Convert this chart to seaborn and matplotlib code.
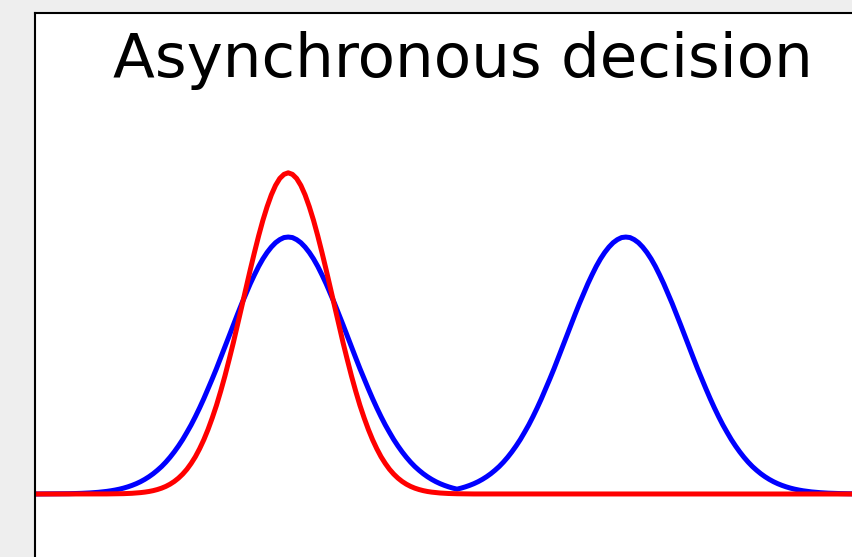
import numpy as np
import pandas as pd
import matplotlib.pyplot as plt
import seaborn as sns

# x positions, one every 0.05 from 0 to 10
x = [round(i * 0.05, 2) for i in range(201)]

# blue curve: two bumps (peaks at x=3 and x=7)
blue = [
    # x 0 .. 3
    0.0001, 0.0002, 0.0002, 0.0003, 0.0004, 0.0006, 0.0007, 0.0009, 0.0012, 0.0016,
    0.0020, 0.0026, 0.0033, 0.0042, 0.0053, 0.0066, 0.0082, 0.0102, 0.0126, 0.0155,
    0.0189, 0.0230, 0.0279, 0.0336, 0.0402, 0.0479, 0.0569, 0.0672, 0.0789, 0.0923,
    0.107, 0.124, 0.143, 0.164, 0.187, 0.212, 0.240, 0.269, 0.301, 0.335,
    0.371, 0.409, 0.448, 0.488, 0.530, 0.572, 0.615, 0.658, 0.700, 0.741,
    0.780, 0.818, 0.853, 0.886, 0.915, 0.940, 0.961, 0.978, 0.990, 0.998,
    1.000,
    # x 3.05 .. 5
    0.998, 0.990, 0.978, 0.961, 0.940, 0.915, 0.886, 0.853, 0.818, 0.780,
    0.741, 0.700, 0.658, 0.615, 0.572, 0.530, 0.488, 0.448, 0.409, 0.371,
    0.335, 0.301, 0.269, 0.240, 0.212, 0.187, 0.164, 0.143, 0.124, 0.107,
    0.0923, 0.0789, 0.0672, 0.0569, 0.0479, 0.0402, 0.0336, 0.0279, 0.0230, 0.0189,
    # x 5.05 .. 7
    0.0230, 0.0279, 0.0336, 0.0402, 0.0479, 0.0569, 0.0672, 0.0789, 0.0923, 0.107,
    0.124, 0.143, 0.164, 0.187, 0.212, 0.240, 0.269, 0.301, 0.335, 0.371,
    0.409, 0.448, 0.488, 0.530, 0.572, 0.615, 0.658, 0.700, 0.741, 0.780,
    0.818, 0.853, 0.886, 0.915, 0.940, 0.961, 0.978, 0.990, 0.998, 1.000,
    # x 7.05 .. 10
    0.998, 0.990, 0.978, 0.961, 0.940, 0.915, 0.886, 0.853, 0.818, 0.780,
    0.741, 0.700, 0.658, 0.615, 0.572, 0.530, 0.488, 0.448, 0.409, 0.371,
    0.335, 0.301, 0.269, 0.240, 0.212, 0.187, 0.164, 0.143, 0.124, 0.107,
    0.0923, 0.0789, 0.0672, 0.0569, 0.0479, 0.0402, 0.0336, 0.0279, 0.0230, 0.0189,
    0.0155, 0.0126, 0.0102, 0.0082, 0.0066, 0.0053, 0.0042, 0.0033, 0.0026, 0.0020,
    0.0016, 0.0012, 0.0009, 0.0007, 0.0006, 0.0004, 0.0003, 0.0002, 0.0002, 0.0001,
]

# red curve: one narrower, taller bump at x=3
red = [0] * 13 + [
    # x 0.65 .. 5.35
    0.0001, 0.0001, 0.0002, 0.0002, 0.0003, 0.0005, 0.0007, 0.0010, 0.0014, 0.0020,
    0.0028, 0.0039, 0.0054, 0.0073, 0.0098, 0.0131, 0.0174, 0.0228, 0.0296, 0.0382,
    0.0488, 0.0618, 0.0775, 0.0963, 0.119, 0.145, 0.176, 0.211, 0.251, 0.296,
    0.345, 0.400, 0.459, 0.523, 0.589, 0.659, 0.730, 0.801, 0.872, 0.940,
    1.005, 1.065, 1.118, 1.164, 1.201, 1.228, 1.244, 1.250, 1.244, 1.228,
    1.201, 1.164, 1.118, 1.065, 1.005, 0.940, 0.872, 0.801, 0.730, 0.659,
    0.589, 0.523, 0.459, 0.400, 0.345, 0.296, 0.251, 0.211, 0.176, 0.145,
    0.119, 0.0963, 0.0775, 0.0618, 0.0488, 0.0382, 0.0296, 0.0228, 0.0174, 0.0131,
    0.0098, 0.0073, 0.0054, 0.0039, 0.0028, 0.0020, 0.0014, 0.0010, 0.0007, 0.0005,
    0.0003, 0.0002, 0.0002, 0.0001, 0.0001,
] + [0] * 93

df = pd.DataFrame({"x": x, "blue": blue, "red": red})

fig = plt.figure(figsize=(8.52, 5.57), dpi=100, facecolor="#eeeeee")
# axes runs off the right and bottom edges of the figure
ax = fig.add_axes([35 / 852, -0.0253, 844 / 852, 1.0020])
ax.set_facecolor("white")

sns.lineplot(data=df, x="x", y="blue", color="#0000ff", lw=3.6, estimator=None,
             solid_joinstyle="round", ax=ax)
sns.lineplot(data=df, x="x", y="red", color="#ff0000", lw=3.6, estimator=None,
             solid_joinstyle="round", ax=ax)

ax.set_xlim(0, 10)
ax.set_ylim(-0.3, 1.872)
ax.set_xticks([])
ax.set_yticks([])
ax.set_xlabel("")
ax.set_ylabel("")
for s in ax.spines.values():
    s.set_color("black")
    s.set_linewidth(1.5)

ax.text(5.07, 1.623, "Asynchronous decision", fontsize=44, ha="center", va="baseline")

fig.savefig("out.png", dpi=100, facecolor=fig.get_facecolor())
